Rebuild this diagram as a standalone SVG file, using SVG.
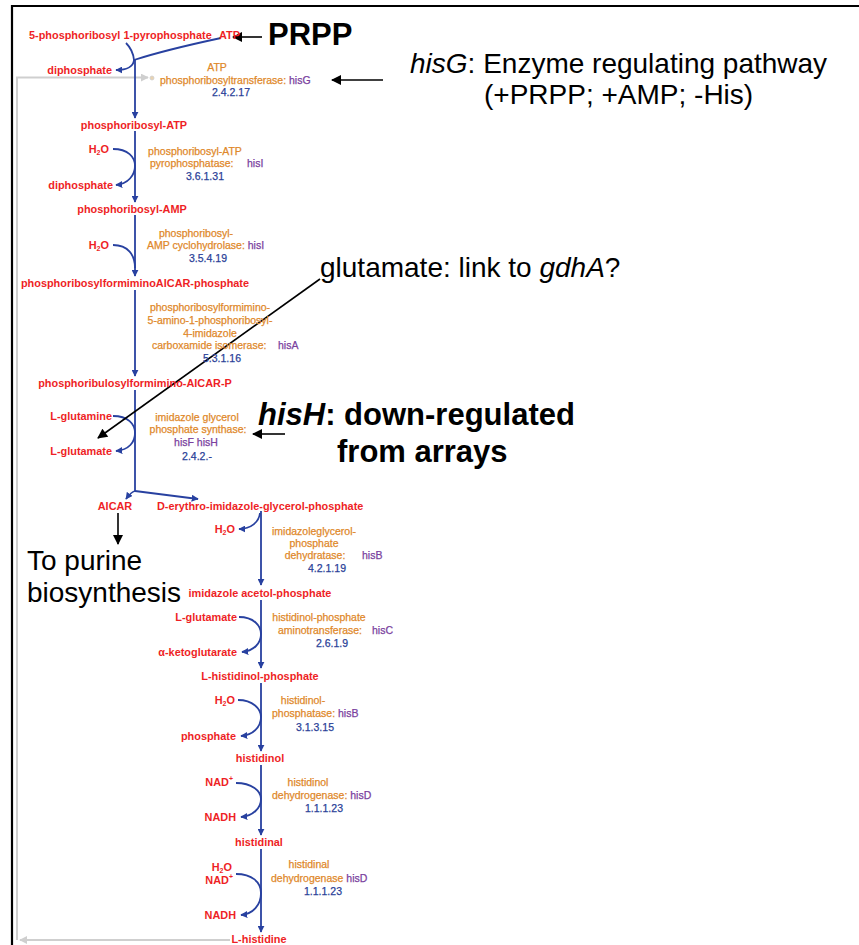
<svg xmlns="http://www.w3.org/2000/svg" width="859" height="945" viewBox="0 0 859 945">
<defs>
<style>
text{font-family:"Liberation Sans",Arial,sans-serif}
.cpd{font-size:10.9px;font-weight:bold;fill:#ee1f26}
.enz{font-size:10.5px;fill:#e0882a;stroke:#e0882a;stroke-width:0.25}
.gene{font-size:10.5px;fill:#7a3f9e;stroke:#7a3f9e;stroke-width:0.25}
.ec{font-size:10.5px;fill:#2a3f98;stroke:#2a3f98;stroke-width:0.25}
.mid{text-anchor:middle}
.end{text-anchor:end}
.big{font-size:28px;fill:#000}
.bigb{font-size:31px;font-weight:bold;fill:#000}
.rx{fill:none;stroke:#2841a0;stroke-width:1.8}
.ann{fill:none;stroke:#000;stroke-width:1.6}
.fb{fill:none;stroke:#cfcfcf;stroke-width:2}
</style>
<marker id="ab" viewBox="0 0 10 10" refX="9" refY="5" markerWidth="7" markerHeight="7" markerUnits="userSpaceOnUse" orient="auto"><path d="M0,0 L10,5 L0,10 z" fill="#2841a0"/></marker>
<marker id="ak" viewBox="0 0 10 10" refX="9" refY="5" markerWidth="11" markerHeight="10" markerUnits="userSpaceOnUse" orient="auto"><path d="M0,0 L10,5 L0,10 z" fill="#000"/></marker>
<marker id="ag" viewBox="0 0 10 10" refX="9" refY="5" markerWidth="8" markerHeight="8" markerUnits="userSpaceOnUse" orient="auto"><path d="M0,0 L10,5 L0,10 z" fill="#cfcfcf"/></marker>
</defs>
<rect width="859" height="945" fill="#fff"/>
<g id="frame" fill="none" stroke="#000" stroke-width="2.2">
<path d="M12,945 V6 H859"/>
</g>

<g id="connectors">
<path class="fb" d="M230,940 H20" marker-end="url(#ag)"/>
<path class="fb" d="M17,940 V77.5 H148" marker-end="url(#ag)"/>
<circle cx="152" cy="78" r="2" fill="#e9d3b0" stroke="#cfcfcf" stroke-width="0.8"/>
<path class="rx" d="M126,43 Q133,50 134,60"/>
<path class="rx" d="M221,38 Q165,50 134,60"/>
<path class="rx" d="M134,60 Q133,70 116,70" marker-end="url(#ab)"/>
<path class="rx" d="M135,60 V118" marker-end="url(#ab)"/>
<path class="rx" d="M135,131 V202" marker-end="url(#ab)"/>
<path class="rx" d="M113,149 C128,149 135,157 135,166 C135,175 128,184 116,185" marker-end="url(#ab)"/>
<path class="rx" d="M135,215 V276" marker-end="url(#ab)"/>
<path class="rx" d="M113,245 C128,245 135,255 135,268"/>
<path class="rx" d="M135,290 V376" marker-end="url(#ab)"/>
<path class="rx" d="M135,390 V491"/>
<path class="rx" d="M113,416 C128,416 135,424 135,433 C135,442 129,450 116,451" marker-end="url(#ab)"/>
<path class="rx" d="M135,491 Q131,492 126,499" marker-end="url(#ab)"/>
<path class="rx" d="M135,491 L198,499" marker-end="url(#ab)"/>
<path class="rx" d="M261,511 V585" marker-end="url(#ab)"/>
<path class="rx" d="M260,513 C259,522 251,529 239,529" marker-end="url(#ab)"/>
<path class="rx" d="M261,600 V668" marker-end="url(#ab)"/>
<path class="rx" d="M239,617 C254,617 261,626 261,634 C261,643 254,651 242,652" marker-end="url(#ab)"/>
<path class="rx" d="M261,683 V751" marker-end="url(#ab)"/>
<path class="rx" d="M238,700 C253,700 261,709 261,717 C261,727 253,735 241,736" marker-end="url(#ab)"/>
<path class="rx" d="M261,765 V835" marker-end="url(#ab)"/>
<path class="rx" d="M236,783 C252,783 261,791 261,799 C261,808 253,816 241,817" marker-end="url(#ab)"/>
<path class="rx" d="M261,849 V932" marker-end="url(#ab)"/>
<path class="rx" d="M236,874 C252,874 261,882 261,893 C261,905 253,914 241,915" marker-end="url(#ab)"/>
<path class="ann" d="M262,37 H233" marker-end="url(#ak)"/>
<path class="ann" d="M383,80 H332" marker-end="url(#ak)"/>
<path class="ann" d="M320,279 L98,438" marker-end="url(#ak)"/>
<path class="ann" d="M285,434 H253" marker-end="url(#ak)"/>
<path class="ann" d="M118,513 V544" marker-end="url(#ak)"/>
</g>

<g id="c_prpp"><text class="cpd" x="29" y="39">5-phosphoribosyl 1-pyrophosphate</text></g>
<g id="c_atp"><text class="cpd" x="219" y="39">ATP</text></g>
<g id="c_pp1"><text class="cpd end" x="112" y="74">diphosphate</text></g>
<g id="c_pratp"><text class="cpd mid" x="134" y="129">phosphoribosyl-ATP</text></g>
<g id="c_h2o1"><text class="cpd end" x="109" y="153">H<tspan font-size="7" dy="2">2</tspan><tspan dy="-2">O</tspan></text></g>
<g id="c_pp2"><text class="cpd end" x="113" y="189">diphosphate</text></g>
<g id="c_pramp"><text class="cpd mid" x="132" y="213">phosphoribosyl-AMP</text></g>
<g id="c_h2o2"><text class="cpd end" x="109" y="249">H<tspan font-size="7" dy="2">2</tspan><tspan dy="-2">O</tspan></text></g>
<g id="c_prfar"><text class="cpd mid" x="135" y="287">phosphoribosylformiminoAICAR-phosphate</text></g>
<g id="c_prfar2"><text class="cpd mid" x="135" y="387">phosphoribulosylformimino-AICAR-P</text></g>
<g id="c_gln"><text class="cpd end" x="112" y="420">L-glutamine</text></g>
<g id="c_glu1"><text class="cpd end" x="112" y="455">L-glutamate</text></g>
<g id="c_aicar"><text class="cpd mid" x="115" y="510">AICAR</text></g>
<g id="c_igp"><text class="cpd" x="157" y="510">D-erythro-imidazole-glycerol-phosphate</text></g>
<g id="c_h2o3"><text class="cpd end" x="235" y="533">H<tspan font-size="7" dy="2">2</tspan><tspan dy="-2">O</tspan></text></g>
<g id="c_iap"><text class="cpd mid" x="260" y="597">imidazole acetol-phosphate</text></g>
<g id="c_glu2"><text class="cpd end" x="237" y="621">L-glutamate</text></g>
<g id="c_akg"><text class="cpd end" x="237" y="656">α-ketoglutarate</text></g>
<g id="c_hlp"><text class="cpd mid" x="260" y="680">L-histidinol-phosphate</text></g>
<g id="c_h2o4"><text class="cpd end" x="235" y="704">H<tspan font-size="7" dy="2">2</tspan><tspan dy="-2">O</tspan></text></g>
<g id="c_pi"><text class="cpd end" x="236" y="740">phosphate</text></g>
<g id="c_hol"><text class="cpd mid" x="260" y="762">histidinol</text></g>
<g id="c_nad1"><text class="cpd end" x="233" y="786">NAD<tspan font-size="7" dy="-5">+</tspan></text></g>
<g id="c_nadh1"><text class="cpd end" x="236" y="821">NADH</text></g>
<g id="c_hal"><text class="cpd mid" x="259" y="846">histidinal</text></g>
<g id="c_h2o5"><text class="cpd end" x="232" y="871">H<tspan font-size="7" dy="2">2</tspan><tspan dy="-2">O</tspan></text></g>
<g id="c_nad2"><text class="cpd end" x="233" y="884">NAD<tspan font-size="7" dy="-5">+</tspan></text></g>
<g id="c_nadh2"><text class="cpd end" x="236" y="919">NADH</text></g>
<g id="c_his"><text class="cpd mid" x="259" y="943">L-histidine</text></g>

<g id="e_hisG">
<text class="enz mid" x="217" y="71">ATP</text>
<text class="enz" x="160" y="84">phosphoribosyltransferase: <tspan class="gene">hisG</tspan></text>
<text class="ec mid" x="231" y="96">2.4.2.17</text>
</g>
<g id="e_hisI1">
<text class="enz mid" x="195" y="155">phosphoribosyl-ATP</text>
<text class="enz" x="150" y="167">pyrophosphatase:</text>
<text class="gene" x="247" y="167">hisI</text>
<text class="ec mid" x="205" y="180">3.6.1.31</text>
</g>
<g id="e_hisI2">
<text class="enz mid" x="196" y="237">phosphoribosyl-</text>
<text class="enz" x="147" y="249">AMP cyclohydrolase: <tspan class="gene">hisI</tspan></text>
<text class="ec mid" x="208" y="262">3.5.4.19</text>
</g>
<g id="e_hisA">
<text class="enz mid" x="210" y="311">phosphoribosylformimino-</text>
<text class="enz mid" x="210" y="324">5-amino-1-phosphoribosyl-</text>
<text class="enz mid" x="210" y="337">4-imidazole</text>
<text class="enz" x="152" y="349">carboxamide isomerase:</text>
<text class="gene" x="278" y="349">hisA</text>
<text class="ec mid" x="222" y="362">5.3.1.16</text>
</g>
<g id="e_hisFH">
<text class="enz mid" x="197" y="421">imidazole glycerol</text>
<text class="enz mid" x="198" y="433">phosphate synthase:</text>
<text class="gene mid" x="196" y="446">hisF hisH</text>
<text class="ec mid" x="197" y="460">2.4.2.-</text>
</g>
<g id="e_hisB1">
<text class="enz mid" x="314" y="535">imidazoleglycerol-</text>
<text class="enz mid" x="314" y="547">phosphate</text>
<text class="enz mid" x="315" y="559">dehydratase:</text>
<text class="gene" x="362" y="559">hisB</text>
<text class="ec mid" x="327" y="572">4.2.1.19</text>
</g>
<g id="e_hisC">
<text class="enz mid" x="319" y="621">histidinol-phosphate</text>
<text class="enz mid" x="320" y="634">aminotransferase:</text>
<text class="gene" x="372" y="634">hisC</text>
<text class="ec mid" x="332" y="647">2.6.1.9</text>
</g>
<g id="e_hisB2">
<text class="enz mid" x="303" y="704">histidinol-</text>
<text class="enz" x="272" y="717">phosphatase: <tspan class="gene">hisB</tspan></text>
<text class="ec mid" x="315" y="731">3.1.3.15</text>
</g>
<g id="e_hisD1">
<text class="enz mid" x="308" y="786">histidinol</text>
<text class="enz" x="272" y="799">dehydrogenase: <tspan class="gene">hisD</tspan></text>
<text class="ec mid" x="324" y="812">1.1.1.23</text>
</g>
<g id="e_hisD2">
<text class="enz mid" x="309" y="868">histidinal</text>
<text class="enz" x="271" y="882">dehydrogenase  <tspan class="gene">hisD</tspan></text>
<text class="ec mid" x="323" y="895">1.1.1.23</text>
</g>

<g id="a_prpp"><text class="bigb" x="268" y="45">PRPP</text></g>
<g id="a_hisG">
<text class="big" x="410" y="73"><tspan font-style="italic">hisG</tspan>: Enzyme regulating pathway</text>
<text class="big" x="484" y="104">(+PRPP; +AMP; -His)</text>
</g>
<g id="a_glu"><text class="big" x="320" y="277">glutamate: link to <tspan font-style="italic">gdhA</tspan>?</text></g>
<g id="a_hisH">
<text class="bigb" x="258" y="425"><tspan font-style="italic">hisH</tspan>: down-regulated</text>
<text class="bigb" x="337" y="462">from arrays</text>
</g>
<g id="a_purine">
<text class="big" x="27" y="570">To purine</text>
<text class="big" x="27" y="602">biosynthesis</text>
</g>
</svg>
